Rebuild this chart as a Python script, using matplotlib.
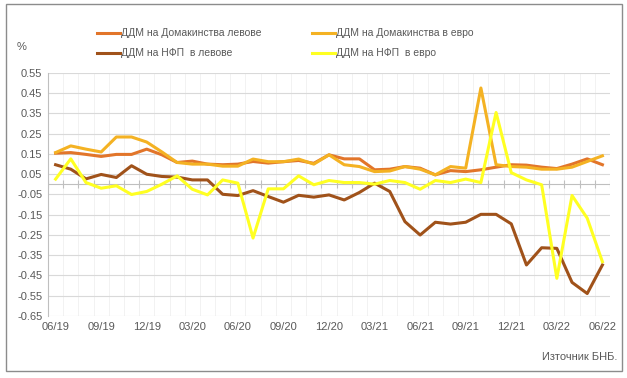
import numpy as np
import matplotlib.pyplot as plt
from matplotlib.patches import Rectangle

# месеци 06/19 - 06/22
months = ["06/19", "07/19", "08/19", "09/19", "10/19", "11/19", "12/19", "01/20", "02/20",
          "03/20", "04/20", "05/20", "06/20", "07/20", "08/20", "09/20", "10/20", "11/20",
          "12/20", "01/21", "02/21", "03/21", "04/21", "05/21", "06/21", "07/21", "08/21",
          "09/21", "10/21", "11/21", "12/21", "01/22", "02/22", "03/22", "04/22", "05/22",
          "06/22"]

hh_bgn = [0.154, 0.157, 0.148, 0.138, 0.148, 0.148, 0.174, 0.146, 0.108, 0.115, 0.100, 0.097,
          0.100, 0.113, 0.105, 0.112, 0.118, 0.104, 0.146, 0.126, 0.126, 0.072, 0.075, 0.088,
          0.080, 0.047, 0.068, 0.063, 0.072, 0.085, 0.097, 0.095, 0.085, 0.078, 0.100, 0.126,
          0.097]
hh_eur = [0.157, 0.190, 0.174, 0.160, 0.234, 0.234, 0.209, 0.160, 0.108, 0.100, 0.100, 0.090,
          0.090, 0.125, 0.112, 0.112, 0.125, 0.100, 0.146, 0.097, 0.088, 0.063, 0.066, 0.088,
          0.075, 0.047, 0.088, 0.080, 0.476, 0.097, 0.088, 0.085, 0.075, 0.075, 0.085, 0.113,
          0.141]
nfc_bgn = [0.097, 0.075, 0.027, 0.049, 0.034, 0.092, 0.050, 0.039, 0.036, 0.022, 0.022, -0.049,
           -0.055, -0.031, -0.060, -0.088, -0.054, -0.063, -0.052, -0.077, -0.040, 0.006, -0.035,
           -0.184, -0.250, -0.187, -0.196, -0.187, -0.148, -0.148, -0.195, -0.398, -0.313, -0.316,
           -0.484, -0.539, -0.398]
nfc_eur = [0.026, 0.126, 0.009, -0.019, -0.007, -0.050, -0.035, 0.001, 0.042, -0.024, -0.052,
           0.022, 0.006, -0.265, -0.022, -0.022, 0.042, -0.002, 0.019, 0.009, 0.009, 0.001, 0.019,
           0.009, -0.024, 0.019, 0.009, 0.026, 0.009, 0.355, 0.058, 0.022, -0.002, -0.464, -0.055,
           -0.167, -0.382]

labels = ["ДДМ на Домакинства левове", "ДДМ на Домакинства в евро",
          "ДДМ на НФП  в левове", "ДДМ на НФП  в евро"]
colors = ["#E2752A", "#F4B223", "#A0521A", "#FFFF22"]

yticks = np.round(np.arange(-0.65, 0.56, 0.1), 2)

fig = plt.figure(figsize=(6.27, 3.78), dpi=100)
ax = fig.add_axes([48 / 627, 1 - 316 / 378, 562 / 627, 243 / 378])

x = np.arange(len(months))
series = [hh_bgn, hh_eur, nfc_bgn, nfc_eur]
lines = []
for s, c, lab in zip(series, colors, labels):
    ln, = ax.plot(x, s, color=c, lw=2.2, label=lab, zorder=3, solid_joinstyle="round")
    lines.append(ln)

ax.set_xlim(-0.5, len(months) - 0.5)
ax.set_ylim(-0.65, 0.55)

# решетка
ax.set_yticks(yticks)
ax.set_yticklabels(["%.2f" % v for v in yticks])
ax.grid(axis="y", color="#D9D9D9", lw=0.8, zorder=0)
bounds = np.arange(-0.5, len(months), 1)
for b in bounds:
    ax.axvline(b, color="#F0F0F0", lw=0.6, zorder=0)

# хоризонтална ос при нула с малки чертички
ax.axhline(0, color="#BFBFBF", lw=0.8, zorder=1)
ax.vlines(bounds, -0.02, 0.02, color="#BFBFBF", lw=0.8, zorder=1)

ax.set_xticks(x[::3])
ax.set_xticklabels(months[::3])
ax.tick_params(axis="both", length=0, labelsize=8, labelcolor="#595959", pad=4)
for t in ax.get_xticklabels() + ax.get_yticklabels():
    t.set_family(["Liberation Sans", "DejaVu Sans"])

for sp in ["top", "right", "bottom"]:
    ax.spines[sp].set_visible(False)
ax.spines["left"].set_color("#BFBFBF")
ax.spines["left"].set_linewidth(0.8)

# легенда по редове: [0, 1] / [2, 3]
order = [0, 2, 1, 3]
fig.legend(handles=[lines[i] for i in order], loc="upper left",
           bbox_to_anchor=(97 / 627, 1 - 28.5 / 378), borderaxespad=0, borderpad=0,
           ncol=2, frameon=False, columnspacing=4.8, handlelength=2.2, handletextpad=0.15,
           labelspacing=0.95,
           prop={"family": ["Liberation Sans", "DejaVu Sans"], "size": 7.5},
           labelcolor="#595959")

fig.text(22 / 627, 1 - 47 / 378, "%", fontsize=8, color="#595959",
         family=["Liberation Sans", "DejaVu Sans"], ha="center", va="center")
fig.text(617 / 627, 1 - 357 / 378, "Източник БНБ.", fontsize=8, color="#595959",
         family=["Liberation Sans", "DejaVu Sans"], ha="right", va="center")

fig.patches.append(Rectangle((5.5 / 627, 1 - 371 / 378), 616.5 / 627, 367 / 378,
                             transform=fig.transFigure, fill=False, ec="#8C8C8C", lw=1.0))

fig.savefig("out.png", dpi=100)
